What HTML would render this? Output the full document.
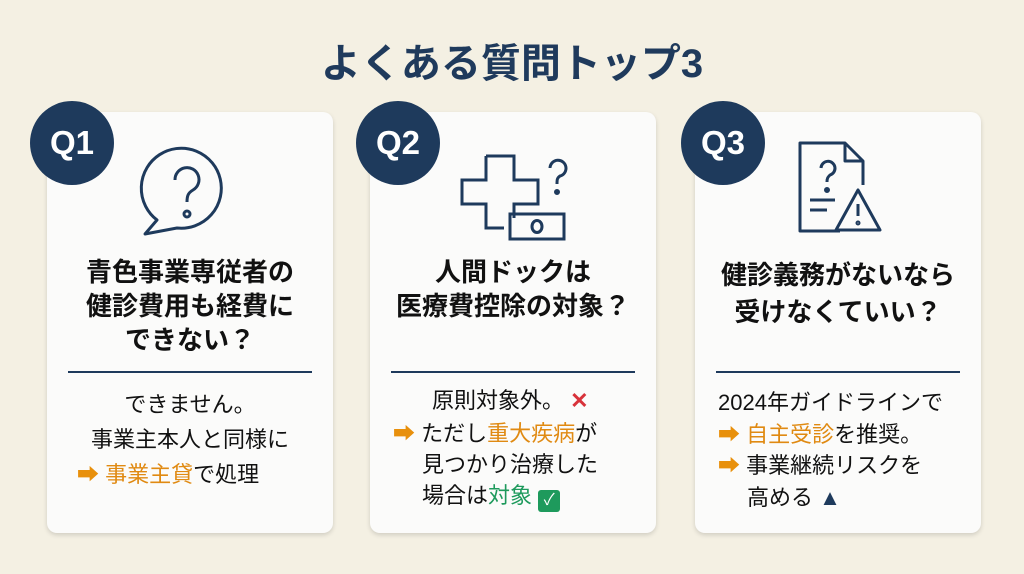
<!DOCTYPE html>
<html><head><meta charset="utf-8"><style>
body{margin:0;width:1024px;height:574px;background:#f4f0e3;font-family:"Liberation Sans","Noto Sans CJK JP",sans-serif;position:relative;overflow:hidden}
.t{position:absolute;top:31px;left:0;width:1024px;text-align:center;font-size:40px;font-weight:bold;color:#1f3a5c}
.card{position:absolute;top:112px;width:286px;height:421px;background:#fbfbfa;border-radius:10px;box-shadow:0 2px 5px rgba(0,0,0,.15)}
.q{position:absolute;width:84px;height:84px;border-radius:50%;background:#1e3a5c;color:#fff;font-weight:bold;font-size:33px;line-height:84px;text-align:center}
.h{position:absolute;left:0;width:100%;text-align:center;font-size:26px;font-weight:bold;color:#111;line-height:34px;white-space:nowrap}
.hr{position:absolute;top:259px;left:21px;right:21px;height:2px;background:#1e3a5c}
.b{position:absolute;font-size:22px;color:#111;line-height:35px;white-space:nowrap}
.o{color:#e08a12}.g{color:#1e9a5c}.ar{color:#e8900c;font-weight:bold}
svg{position:absolute}
</style></head><body>
<div class="t">よくある質問トップ3</div>

<div class="card" style="left:47px">
<svg style="left:90px;top:30px" width="100" height="100" viewBox="0 0 100 100" fill="none" stroke="#1e3a5c" stroke-width="3">
<path d="M20 78 A40 40 0 1 1 40 86 L8 92 Z" stroke-linejoin="round"/>
<path d="M38 38 a12 12 0 1 1 18 10 c-5 3 -6 6 -6 12"/><circle cx="50" cy="72" r="3"/></svg>
<div class="h" style="top:143px">青色事業専従者の<br>健診費用も経費に<br>できない？</div>
<div class="hr"></div>
<div class="b" style="left:0;width:100%;text-align:center;top:275px">できません。<br>事業主本人と同様に</div>
<div class="b" style="left:30px;top:345px"><span class="ar">➡</span> <span class="o">事業主貸</span>で処理</div>
</div>

<div class="card" style="left:370px">
<svg style="left:88px;top:30px" width="120" height="100" viewBox="0 0 120 100" fill="none" stroke="#1e3a5c" stroke-width="3">
<path d="M28 14 H56 V38 H80 V62 H56 V76 M28 14 V38 H4 V62 H28 V86 H46"/>
<path d="M92 26 a8 8 0 1 1 10 8 c-3 2 -3 4 -3 8"/><circle cx="99" cy="50" r="1.5"/>
<rect x="52" y="72" width="54" height="25"/><ellipse cx="79" cy="84.5" rx="5" ry="6"/></svg>
<div class="h" style="top:143px">人間ドックは<br>医療費控除の対象？</div>
<div class="hr"></div>
<div class="b" style="left:62px;top:271px">原則対象外。<span style="color:#d8323a;font-weight:bold"> ✕</span></div>
<div class="b" style="left:23px;top:306px;line-height:31px"><span class="ar">➡</span> ただし<span class="o">重大疾病</span>が<br><span style="padding-left:29px">見つかり治療した</span><br><span style="padding-left:29px">場合は<span class="g">対象</span> <span style="display:inline-block;width:22px;height:22px;background:#1e9a5c;color:#fff;border-radius:3px;font-size:16px;line-height:22px;text-align:center;vertical-align:-2px">✓</span></span></div>
</div>

<div class="card" style="left:695px">
<svg style="left:100px;top:28px" width="100" height="100" viewBox="0 0 100 100" fill="none" stroke="#1e3a5c" stroke-width="3" stroke-linejoin="round">
<path d="M45 91 H5 V3 H50 L68 21 V45 M50 3 V21 H68"/>
<path d="M26 28 a7 7 0 1 1 9 7 c-2 2 -3 3 -3 7"/><circle cx="32" cy="50" r="1.5"/>
<path d="M15 60 H40 M15 70 H32"/>
<path d="M63 50 L85 90 H41 Z"/><path d="M63 64 V76"/><circle cx="63" cy="83" r="1"/></svg>
<div class="h" style="top:145px;line-height:37px">健診義務がないなら<br>受けなくていい？</div>
<div class="hr"></div>
<div class="b" style="left:23px;top:275px;line-height:31.5px">2024年ガイドラインで<br><span class="ar">➡</span> <span class="o">自主受診</span>を推奨。<br><span class="ar">➡</span> 事業継続リスクを<br><span style="padding-left:29px">高める <span style="color:#1e3a5c">▲</span></span></div>
</div>

<div class="q" style="left:30px;top:101px">Q1</div>
<div class="q" style="left:356px;top:101px">Q2</div>
<div class="q" style="left:681px;top:101px">Q3</div>
</body></html>
